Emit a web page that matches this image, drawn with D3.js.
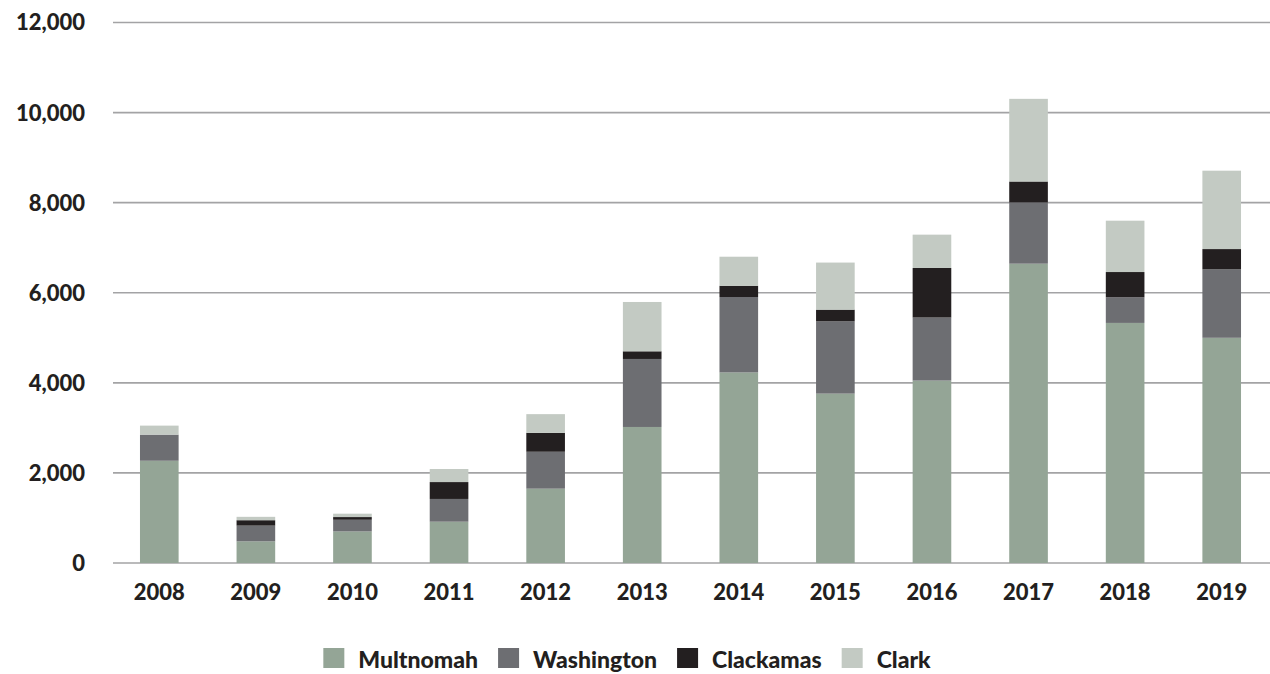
<!DOCTYPE html>
<html>
<head>
<meta charset="utf-8">
<script src="https://cdn.jsdelivr.net/npm/d3@7"></script>
<style>
  body { margin: 0; background: #fff; }
  svg text { font-family: Lato, "Open Sans", sans-serif; font-weight: 900; fill: #231f20; }
</style>
</head>
<body>
<svg id="chart" width="1270" height="674"></svg>
<script>
// Data
const years = ["2008", "2009", "2010", "2011", "2012", "2013", "2014", "2015", "2016", "2017", "2018", "2019"];
const multnomah  = [2270, 480, 700, 917, 1650, 3020, 4230, 3760, 4050, 6645, 5330, 5000];
const washington = [580, 350, 260, 505, 820, 1510, 1675, 1605, 1400, 1360, 570, 1520];
const clackamas  = [0, 120, 60, 375, 420, 170, 250, 260, 1100, 465, 560, 450];
const clark      = [200, 75, 75, 290, 415, 1095, 645, 1045, 740, 1835, 1140, 1740];
const seriesNames = ["Multnomah", "Washington", "Clackamas", "Clark"];
const yTicks = [0, 2000, 4000, 6000, 8000, 10000, 12000];

const colors = ["#94a596", "#6d6e72", "#231f20", "#c3cac3"];

const svg = d3.select("#chart");

// Build table for the stack layout
const table = years.map((y, i) => ({
    year: y,
    Multnomah: multnomah[i],
    Washington: washington[i],
    Clackamas: clackamas[i],
    Clark: clark[i]
}));

const x = d3.scaleBand()
    .domain(years)
    .range([111, 1270])
    .paddingInner(0.6)
    .paddingOuter(0.3);

const y = d3.scaleLinear()
    .domain([0, 12000])
    .range([563, 22.5]);

// Gridlines
svg.append("g")
    .selectAll("line")
    .data(yTicks)
    .enter().append("line")
    .attr("x1", 113)
    .attr("x2", 1270)
    .attr("y1", d => y(d))
    .attr("y2", d => y(d))
    .attr("stroke", "#a3a3a5")
    .attr("stroke-width", 1.6);

// Y labels
svg.append("g")
    .selectAll("text")
    .data(yTicks)
    .enter().append("text")
    .attr("x", 85)
    .attr("y", d => y(d))
    .attr("dy", "0.36em")
    .attr("text-anchor", "end")
    .style("font-size", "22px")
    .text(d => d3.format(",")(d));

// Stacked bars
const stack = d3.stack().keys(seriesNames);
const layers = stack(table);

svg.append("g")
    .selectAll("g")
    .data(layers)
    .enter().append("g")
    .attr("fill", (d, i) => colors[i])
    .selectAll("rect")
    .data(d => d)
    .enter().append("rect")
    .attr("x", d => x(d.data.year))
    .attr("width", x.bandwidth())
    .attr("y", d => y(d[1]))
    .attr("height", d => y(d[0]) - y(d[1]));

// X labels
svg.append("g")
    .selectAll("text")
    .data(years)
    .enter().append("text")
    .attr("x", d => x(d) + x.bandwidth() / 2)
    .attr("y", 600)
    .attr("text-anchor", "middle")
    .style("font-size", "22px")
    .text(d => d);

// Legend
const legend = svg.append("g");
let lx = 0;
seriesNames.forEach((name, i) => {
    const item = legend.append("g").attr("transform", `translate(${lx},0)`);
    item.append("rect")
        .attr("x", 0)
        .attr("y", 648)
        .attr("width", 21)
        .attr("height", 20)
        .attr("fill", colors[i]);
    const t = item.append("text")
        .attr("x", 35)
        .attr("y", 668)
        .style("font-size", "23px")
        .text(name);
    lx += 35 + t.node().getComputedTextLength() + 20;
});
const legendWidth = lx - 20;
legend.attr("transform", `translate(${627 - legendWidth / 2},0)`);
</script>
</body>
</html>
